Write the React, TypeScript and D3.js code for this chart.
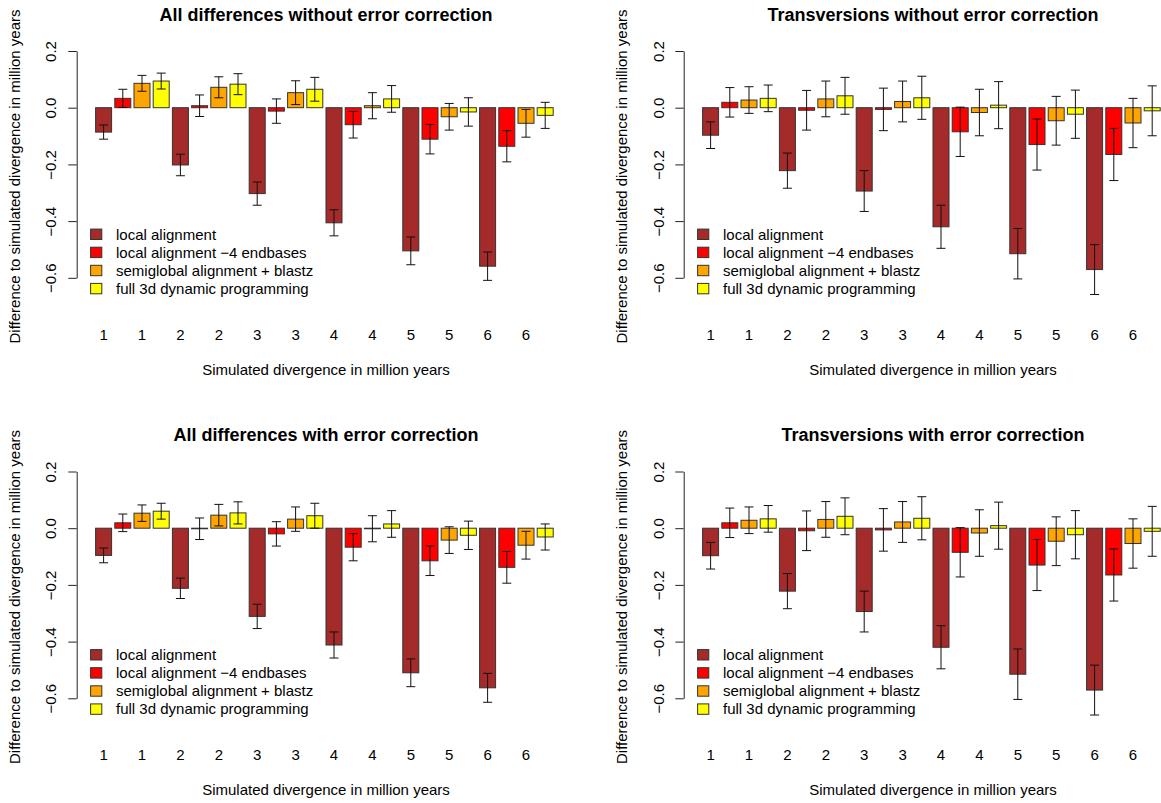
import React, { useEffect, useRef } from 'react';
import * as d3 from 'd3';

// tick labels under the bars (one every second bar)
const xLabels = ['1', '1', '2', '2', '3', '3', '4', '4', '5', '5', '6', '6'];
const methods = [
  'local alignment',
  'local alignment \u22124 endbases',
  'semiglobal alignment + blastz',
  'full 3d dynamic programming',
];
const colors = ['#A52A2A', '#FF0000', '#FFA500', '#FFFF00'];
const yTicks = [0.2, 0, -0.2, -0.4, -0.6];

// All differences without error correction
const allNoLocal = [-0.086, -0.202, -0.303, -0.406, -0.505, -0.559];
const allNoEnd = [0.033, 0.007, -0.012, -0.06, -0.111, -0.136];
const allNoSemi = [0.086, 0.072, 0.053, 0.007, -0.032, -0.055];
const allNoFull = [0.094, 0.083, 0.065, 0.031, -0.015, -0.027];
const allNoLocalErr = [0.025, 0.038, 0.041, 0.046, 0.049, 0.05];
const allNoEndErr = [0.032, 0.038, 0.043, 0.047, 0.052, 0.055];
const allNoSemiErr = [0.028, 0.037, 0.042, 0.046, 0.047, 0.049];
const allNoFullErr = [0.028, 0.037, 0.042, 0.047, 0.05, 0.046];

// Transversions without error correction
const tvNoLocal = [-0.097, -0.222, -0.294, -0.42, -0.515, -0.571];
const tvNoEnd = [0.019, -0.009, -0.006, -0.085, -0.13, -0.165];
const tvNoSemi = [0.027, 0.031, 0.022, -0.017, -0.046, -0.054];
const tvNoFull = [0.033, 0.042, 0.035, 0.009, -0.023, -0.011];
const tvNoLocalErr = [0.047, 0.062, 0.072, 0.076, 0.089, 0.088];
const tvNoEndErr = [0.052, 0.07, 0.075, 0.087, 0.09, 0.092];
const tvNoSemiErr = [0.047, 0.063, 0.072, 0.082, 0.086, 0.087];
const tvNoFullErr = [0.047, 0.065, 0.076, 0.083, 0.085, 0.088];

// All differences with error correction
const allCoLocal = [-0.096, -0.212, -0.311, -0.412, -0.51, -0.563];
const allCoEnd = [0.019, -0.002, -0.02, -0.067, -0.115, -0.138];
const allCoSemi = [0.053, 0.046, 0.032, -0.002, -0.042, -0.06];
const allCoFull = [0.06, 0.054, 0.044, 0.015, -0.025, -0.031];
const allCoLocalErr = [0.026, 0.036, 0.043, 0.046, 0.049, 0.051];
const allCoEndErr = [0.031, 0.038, 0.043, 0.048, 0.052, 0.056];
const allCoSemiErr = [0.029, 0.038, 0.043, 0.046, 0.047, 0.049];
const allCoFullErr = [0.028, 0.039, 0.044, 0.047, 0.05, 0.046];

// Transversions with error correction
const tvCoLocal = [-0.097, -0.222, -0.294, -0.42, -0.515, -0.571];
const tvCoEnd = [0.019, -0.009, -0.006, -0.085, -0.13, -0.165];
const tvCoSemi = [0.028, 0.031, 0.022, -0.017, -0.046, -0.054];
const tvCoFull = [0.033, 0.042, 0.035, 0.009, -0.023, -0.011];
const tvCoLocalErr = [0.047, 0.062, 0.072, 0.076, 0.089, 0.088];
const tvCoEndErr = [0.052, 0.07, 0.075, 0.087, 0.09, 0.092];
const tvCoSemiErr = [0.047, 0.063, 0.072, 0.082, 0.086, 0.087];
const tvCoFullErr = [0.047, 0.065, 0.076, 0.083, 0.085, 0.088];

const FONT = "'Liberation Sans', Arial, Helvetica, sans-serif";

const panels = [
  { title: 'All differences without error correction', dx: 0, dy: 0,
    values: [allNoLocal, allNoEnd, allNoSemi, allNoFull],
    errors: [allNoLocalErr, allNoEndErr, allNoSemiErr, allNoFullErr] },
  { title: 'Transversions without error correction', dx: 607, dy: 0,
    values: [tvNoLocal, tvNoEnd, tvNoSemi, tvNoFull],
    errors: [tvNoLocalErr, tvNoEndErr, tvNoSemiErr, tvNoFullErr] },
  { title: 'All differences with error correction', dx: 0, dy: 420.5,
    values: [allCoLocal, allCoEnd, allCoSemi, allCoFull],
    errors: [allCoLocalErr, allCoEndErr, allCoSemiErr, allCoFullErr] },
  { title: 'Transversions with error correction', dx: 607, dy: 420.5,
    values: [tvCoLocal, tvCoEnd, tvCoSemi, tvCoFull],
    errors: [tvCoLocalErr, tvCoEndErr, tvCoSemiErr, tvCoFullErr] },
];

function Panel({ p }: any) {
  const axisRef = useRef<SVGGElement>(null);

  // bars go group by group: brown, red, orange, yellow for divergence 1, then 2 ...
  const bars: any[] = [];
  for (let g = 0; g < 6; g++) {
    for (let m = 0; m < 4; m++) {
      bars.push({ i: g * 4 + m, m, v: p.values[m][g], e: p.errors[m][g] });
    }
  }

  const x = d3.scaleBand<number>()
    .domain(d3.range(24))
    .range([95.6, 553.2])
    .paddingInner(1 / 6)
    .paddingOuter(0);
  const y = d3.scaleLinear().domain([-0.6, 0.2]).range([277.8, 51]);
  const bw = x.bandwidth();
  const axisX = 76.7;

  useEffect(() => {
    const g = d3.select(axisRef.current);
    g.selectAll('*').remove();
    const axis = d3.axisLeft(y)
      .tickValues(yTicks)
      .tickSize(8.4)
      .tickSizeOuter(0)
      .tickFormat(d3.format('.1f') as any);
    g.call(axis as any);
    g.select('.domain').attr('stroke', '#222');
    g.selectAll('.tick line').attr('stroke', '#222');
    g.selectAll('.tick text')
      .attr('x', null)
      .attr('dy', null)
      .attr('text-anchor', 'middle')
      .attr('transform', 'translate(-20.2,0) rotate(-90)')
      .attr('fill', '#000')
      .style('font-family', FONT)
      .style('font-size', '15px');
  }, []);

  return (
    <g transform={`translate(${p.dx},${p.dy})`} fontFamily={FONT}>
      <text x={326} y={20.7} textAnchor="middle" fontSize={18} fontWeight="bold">{p.title}</text>
      <g ref={axisRef} transform={`translate(${axisX},0)`} />
      {bars.map((b) => {
        const x0 = x(b.i) as number;
        const top = y(Math.max(0, b.v));
        const bot = y(Math.min(0, b.v));
        return (
          <rect key={'b' + b.i} x={x0} y={top} width={bw} height={Math.max(bot - top, 0.5)}
            fill={colors[b.m]} stroke="#333" strokeWidth={1} />
        );
      })}
      {bars.map((b) => {
        const cx = (x(b.i) as number) + bw / 2;
        const y1 = y(b.v + b.e);
        const y2 = y(b.v - b.e);
        return (
          <g key={'e' + b.i} stroke="#111" strokeWidth={1} fill="none">
            <line x1={cx} x2={cx} y1={y1} y2={y2} />
            <line x1={cx - 4.5} x2={cx + 4.5} y1={y1} y2={y1} />
            <line x1={cx - 4.5} x2={cx + 4.5} y1={y2} y2={y2} />
          </g>
        );
      })}
      {xLabels.map((l, k) => (
        <text key={'x' + k} x={(x(k * 2) as number) + bw / 2} y={339.5} textAnchor="middle" fontSize={15}>{l}</text>
      ))}
      <text x={326} y={374.5} textAnchor="middle" fontSize={15}>Simulated divergence in million years</text>
      <text transform="translate(19.8,176.5) rotate(-90)" textAnchor="middle" fontSize={15}>
        Difference to simulated divergence in million years
      </text>
      {methods.map((name, k) => {
        const cy = 234.3 + k * 18.1;
        return (
          <g key={'l' + k}>
            <rect x={90.6} y={cy - 5.2} width={11.2} height={10.4} fill={colors[k]} stroke="#333" strokeWidth={1} />
            <text x={116} y={cy + 5.3} fontSize={15}>{name}</text>
          </g>
        );
      })}
    </g>
  );
}

export default function App() {
  return (
    <svg width={1161} height={803} style={{ position: 'absolute', left: 0, top: 0, background: '#fff' }}>
      <rect width={1161} height={803} fill="#fff" />
      {panels.map((p, k) => <Panel key={k} p={p} />)}
    </svg>
  );
}
